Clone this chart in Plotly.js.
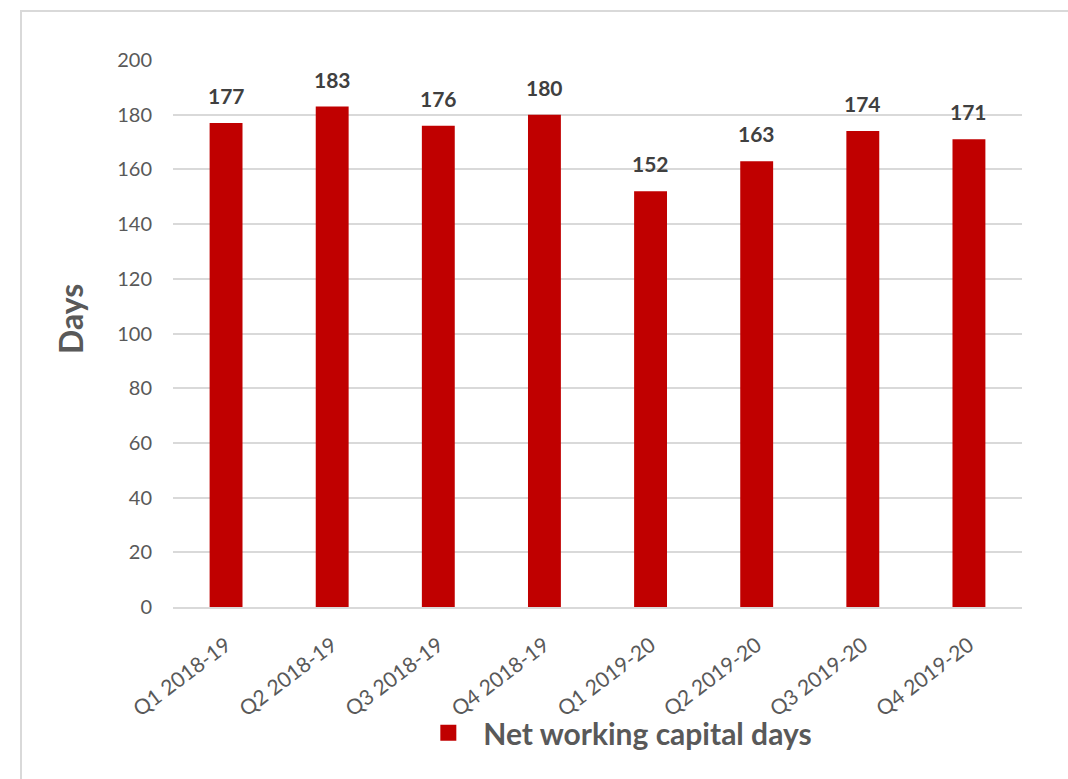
<!DOCTYPE html>
<html>
<head>
<meta charset="utf-8">
<script src="https://cdn.plot.ly/plotly-3.0.1.min.js"></script>
<style>
html,body{margin:0;padding:0;background:#fff;}
#frame{position:absolute;left:20px;top:10px;width:1100px;height:800px;border-left:2px solid #d9d9d9;border-top:2px solid #d9d9d9;pointer-events:none;z-index:5;}
#chart{width:1068px;height:779px;}
</style>
</head>
<body>
<div id="frame"></div>
<div id="chart"></div>
<script>
const categories = ["Q1 2018-19","Q2 2018-19","Q3 2018-19","Q4 2018-19","Q1 2019-20","Q2 2019-20","Q3 2019-20","Q4 2019-20"];
const values = [177,183,176,180,152,163,174,171];
const seriesName = "Net working capital days";
const yTicks = [0,20,40,60,80,100,120,140,160,180,200];

const FONT = "Lato, 'Open Sans', sans-serif";
const RED = '#c00000';

const labelAnnotations = categories.map((c, i) => ({
  x: c, y: values[i], xref: 'x', yref: 'y',
  text: '<b>' + values[i] + '</b>',
  showarrow: false, yanchor: 'bottom', yshift: 13,
  font: {family: FONT, size: 21, color: '#404040'}
}));

const titleAnnotation = {
  xref: 'paper', yref: 'paper', x: -0.1213, y: 0.5265,
  xanchor: 'center', yanchor: 'middle', textangle: -90,
  text: '<b>Days</b>', showarrow: false,
  font: {family: FONT, size: 32, color: '#595959'}
};

Plotly.newPlot('chart', [{
  type: 'bar',
  x: categories,
  y: values,
  name: seriesName,
  marker: {color: RED},
  showlegend: false,
  hoverinfo: 'x+y'
}, {
  type: 'scatter',
  mode: 'markers',
  x: [null], y: [null],
  name: seriesName,
  marker: {symbol: 'square', size: 19, color: RED},
  showlegend: true,
  hoverinfo: 'skip'
}], {
  width: 1068, height: 779,
  margin: {l: 173, r: 46, t: 60, b: 172},
  paper_bgcolor: '#fff', plot_bgcolor: '#fff',
  bargap: 0.69,
  font: {family: FONT, color: '#595959'},
  annotations: labelAnnotations.concat([titleAnnotation]),
  xaxis: {
    type: 'category',
    tickangle: -37,
    tickfont: {family: FONT, size: 21, color: '#595959'},
    ticklabelstandoff: 16,
    showgrid: false,
    showline: true, linecolor: '#d9d9d9', linewidth: 1.5,
    ticks: '', ticklen: 0,
    automargin: false
  },
  yaxis: {
    range: [0, 200],
    tickvals: yTicks,
    tickfont: {family: FONT, size: 20, color: '#595959'},
    ticklabelstandoff: 20,
    showgrid: true, gridcolor: '#d9d9d9', gridwidth: 1.5,
    zeroline: false,
    showline: false,
    ticks: '', ticklen: 0,
    automargin: false
  },
  legend: {
    orientation: 'h', x: 0.521, xanchor: 'center', y: -0.23, yanchor: 'middle',
    itemwidth: 60, bgcolor: 'rgba(0,0,0,0)',
    font: {family: FONT, size: 30, color: '#595959', weight: 'bold'}
  }
}, {displayModeBar: false});
</script>
</body>
</html>
